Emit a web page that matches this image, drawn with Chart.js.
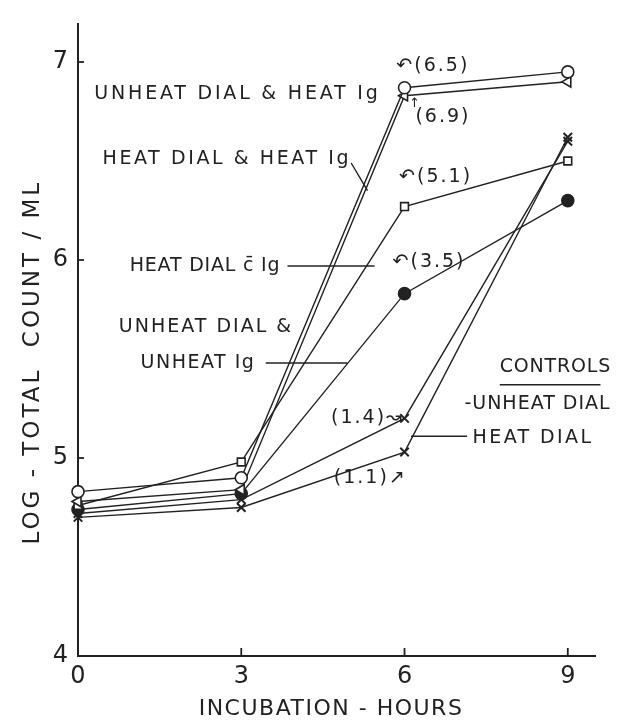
<!DOCTYPE html>
<html>
<head>
<meta charset="utf-8">
<script src="https://cdn.jsdelivr.net/npm/chart.js@4/dist/chart.umd.min.js"></script>
<style>
  html, body { margin: 0; padding: 0; background: #fff; }
  #wrap { width: 622px; height: 724px; }
</style>
</head>
<body>
<div id="wrap"><canvas id="countChart"></canvas></div>
<script>
const hours = [0, 3, 6, 9];
const xTicks = [0, 3, 6, 9];
const yTicks = [4, 5, 6, 7];

// log total count / ml
const unheatDialHeatIg   = [4.83, 4.90, 6.87, 6.95];
const heatDialHeatIg     = [4.78, 4.84, 6.83, 6.90];
const heatDialWithIg     = [4.76, 4.98, 6.27, 6.50];
const unheatDialUnheatIg = [4.74, 4.82, 5.83, 6.30];
const ctrlUnheatDial     = [4.72, 4.79, 5.20, 6.60];
const ctrlHeatDial       = [4.70, 4.75, 5.03, 6.62];

const INK = '#222';
const FONT = '"DejaVu Sans", sans-serif';

function pts(values) {
    return hours.map((h, i) => ({ x: h, y: values[i] }));
}

function series(label, values, style, extra) {
    return Object.assign({
        label: label,
        data: pts(values),
        borderColor: INK,
        borderWidth: 1.4,
        pointStyle: style,
        pointRadius: 6,
        pointBorderWidth: 1.6,
        pointBorderColor: INK,
        pointBackgroundColor: '#fff',
        tension: 0,
        clip: false
    }, extra || {});
}

// hand-lettered notes on the plot (data coords)
const notes = [
    { t: 'UNHEAT DIAL & HEAT Ig', x: 0.30, y: 6.84, ls: 2.8 },
    { t: 'HEAT DIAL & HEAT Ig', x: 0.45, y: 6.51, ls: 2.6 },
    { t: 'HEAT DIAL c\u0304 Ig', x: 0.95, y: 5.97, ls: 0.8 },
    { t: 'UNHEAT DIAL &', x: 0.75, y: 5.66 },
    { t: 'UNHEAT Ig', x: 1.15, y: 5.48, ls: 1.5 },
    { t: 'CONTROLS', x: 7.75, y: 5.46, ls: 0.8 },
    { t: '-UNHEAT DIAL', x: 7.10, y: 5.27, ls: 1 },
    { t: 'HEAT DIAL', x: 7.25, y: 5.10, ls: 2.4 },
    { t: '\u21B6(6.5)', x: 5.85, y: 6.98 },
    { t: '(6.9)', x: 6.20, y: 6.72 },
    { t: '\u2191', x: 6.08, y: 6.79, small: true },
    { t: '\u21B6(5.1)', x: 5.90, y: 6.42 },
    { t: '\u21B6(3.5)', x: 5.78, y: 5.99 },
    { t: '(1.4)\u219D', x: 4.65, y: 5.20 },
    { t: '(1.1)\u2197', x: 4.70, y: 4.90 }
];
const pointers = [
    [3.85, 5.97, 5.45, 5.97],
    [3.45, 5.48, 4.95, 5.48],
    [5.02, 6.49, 5.32, 6.35],
    [6.12, 5.11, 7.15, 5.11],
    [7.75, 5.37, 9.60, 5.37]
];

const paperPlugin = {
    id: 'paper',
    afterDraw(chart) {
        const { ctx, chartArea, scales: { x, y } } = chart;
        ctx.save();
        ctx.strokeStyle = INK;
        ctx.lineWidth = 1.8;
        // inward tick marks
        yTicks.slice(1).forEach(v => {
            const py = y.getPixelForValue(v);
            ctx.beginPath();
            ctx.moveTo(chartArea.left, py);
            ctx.lineTo(chartArea.left + 6, py);
            ctx.stroke();
        });
        xTicks.slice(1).forEach(v => {
            const px = x.getPixelForValue(v);
            ctx.beginPath();
            ctx.moveTo(px, chartArea.bottom);
            ctx.lineTo(px, chartArea.bottom - 8);
            ctx.stroke();
        });
        ctx.lineWidth = 1.4;
        pointers.forEach(p => {
            ctx.beginPath();
            ctx.moveTo(x.getPixelForValue(p[0]), y.getPixelForValue(p[1]));
            ctx.lineTo(x.getPixelForValue(p[2]), y.getPixelForValue(p[3]));
            ctx.stroke();
        });
        ctx.fillStyle = INK;
        ctx.textAlign = 'left';
        ctx.textBaseline = 'middle';
        notes.forEach(n => {
            ctx.font = (n.small ? '13px ' : '19px ') + FONT;
            ctx.letterSpacing = (n.ls || 2) + 'px';
            ctx.fillText(n.t, x.getPixelForValue(n.x), y.getPixelForValue(n.y));
        });

        // axis titles, spaced out like the lettering guide
        ctx.textAlign = 'center';
        ctx.font = '22px ' + FONT;
        ctx.letterSpacing = '1.5px';
        ctx.fillText('INCUBATION - HOURS', 331, 709);
        ctx.translate(33, (chartArea.top + chartArea.bottom) / 2 + 22);
        ctx.rotate(-Math.PI / 2);
        ctx.font = '23px ' + FONT;
        ctx.letterSpacing = '3px';
        ctx.fillText('LOG - TOTAL  COUNT / ML', 0, 0);
        ctx.restore();
    }
};

new Chart(document.getElementById('countChart').getContext('2d'), {
    type: 'line',
    data: {
        datasets: [
            series('UNHEAT DIAL & HEAT Ig', unheatDialHeatIg, 'circle'),
            series('HEAT DIAL & HEAT Ig', heatDialHeatIg, 'triangle', { pointRotation: -90 }),
            series('HEAT DIAL c\u0304 Ig', heatDialWithIg, 'rect', { pointRadius: 5.5 }),
            series('UNHEAT DIAL & UNHEAT Ig', unheatDialUnheatIg, 'circle', { pointBackgroundColor: INK }),
            series('CONTROL UNHEAT DIAL', ctrlUnheatDial, 'crossRot', { pointBorderWidth: 2 }),
            series('CONTROL HEAT DIAL', ctrlHeatDial, 'crossRot', { pointBorderWidth: 2 })
        ]
    },
    options: {
        responsive: true,
        maintainAspectRatio: false,
        animation: false,
        layout: { padding: { top: 13, right: 27, left: 0, bottom: 0 } },
        plugins: {
            legend: { display: false },
            tooltip: { enabled: false }
        },
        scales: {
            x: {
                type: 'linear',
                min: 0,
                max: 9.5,
                afterBuildTicks: s => { s.ticks = xTicks.map(v => ({ value: v })); },
                afterFit: s => { s.height = 68; },
                grid: { display: false, drawTicks: false },
                border: { display: true, color: INK, width: 2 },
                ticks: { color: INK, font: { family: FONT, size: 24 }, padding: 6 }
            },
            y: {
                min: 4,
                max: 7.19,
                afterBuildTicks: s => { s.ticks = yTicks.map(v => ({ value: v })); },
                afterFit: s => { s.width = 78; },
                grid: { display: false, drawTicks: false },
                border: { display: true, color: INK, width: 2 },
                ticks: { color: INK, font: { family: FONT, size: 24 }, padding: 10 }
            }
        }
    },
    plugins: [paperPlugin]
});
</script>
</body>
</html>
